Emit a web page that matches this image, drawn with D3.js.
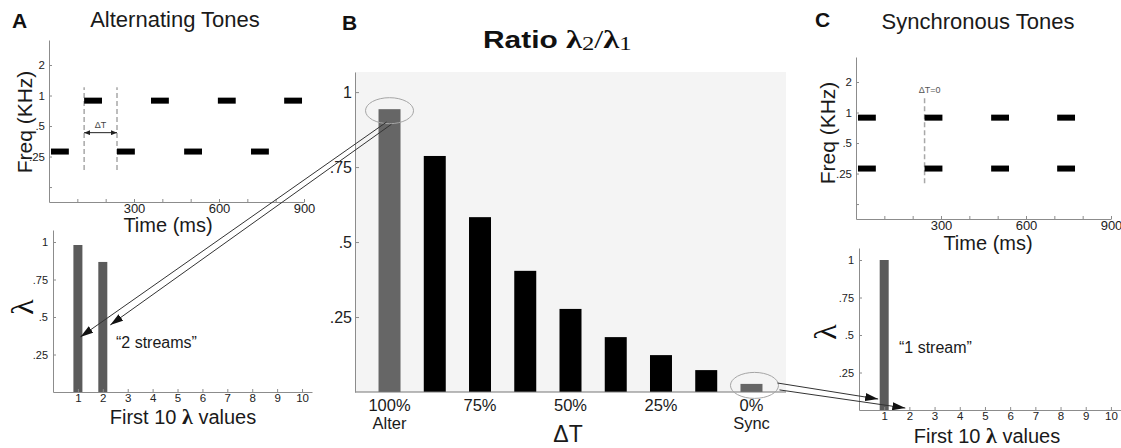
<!DOCTYPE html>
<html>
<head>
<meta charset="utf-8">
<script src="https://cdn.jsdelivr.net/npm/d3@7"></script>
<style>
  body { margin: 0; background: #fff; }
  svg { display: block; }
</style>
</head>
<body>
<div id="chart"></div>
<script>
// ---- data ----
const timeTicks = [100, 200, 300, 400, 500, 600, 700, 800, 900];
const timeLabels = [300, 600, 900];
const freqTicks = [2, 1, 0.5, 0.25, 0.125];
const freqLabels = ["2", "1", ".5", ".25", ""];
const highTone = 0.89;   // kHz
const lowTone = 0.28;
const toneDuration = 63; // ms
const altHighOnsets = [124, 360, 596, 830];
const altLowOnsets = [7, 240, 477, 713];
const syncOnsets = [7, 242, 477, 710];
const altDashes = [124, 240];
const syncDashes = [242];

const lambdaIndex = [1, 2, 3, 4, 5, 6, 7, 8, 9, 10];
const lambdaAlter = [0.98, 0.867, 0, 0, 0, 0, 0, 0, 0, 0];
const lambdaSync = [1.0, 0, 0, 0, 0, 0, 0, 0, 0, 0];
const lambdaTicks = [0.25, 0.5, 0.75, 1];
const lambdaTickLabels = [".25", ".5", ".75", "1"];

const ratioCats = [0, 1, 2, 3, 4, 5, 6, 7, 8];
const ratioPct = ["100%", "", "75%", "", "50%", "", "25%", "", "0%"];
const ratioNames = ["Alter", "", "", "", "", "", "", "", "Sync"];
const ratioValues = [0.943, 0.787, 0.583, 0.404, 0.277, 0.183, 0.123, 0.073, 0.027];
const ratioGrey = [true, false, false, false, false, false, false, false, true];

// ---- setup ----
const W = 1121, H = 448;
const sans = "Liberation Sans, Arial, sans-serif";
const serif = "Liberation Serif, Times New Roman, serif";
const axisGrey = "#8c8c8c";

const svg = d3.select("#chart").append("svg")
    .attr("width", W)
    .attr("height", H);

const defs = svg.append("defs");
defs.append("marker")
    .attr("id", "head")
    .attr("viewBox", "0 0 13 8")
    .attr("refX", 13).attr("refY", 4)
    .attr("markerWidth", 13).attr("markerHeight", 8)
    .attr("markerUnits", "userSpaceOnUse")
    .attr("orient", "auto")
    .append("path").attr("d", "M0,0L13,4L0,8Z").attr("fill", "#111");
defs.append("marker")
    .attr("id", "small")
    .attr("viewBox", "0 0 6 5")
    .attr("refX", 6).attr("refY", 2.5)
    .attr("markerWidth", 6).attr("markerHeight", 5)
    .attr("markerUnits", "userSpaceOnUse")
    .attr("orient", "auto-start-reverse")
    .append("path").attr("d", "M0,0L6,2.5L0,5Z").attr("fill", "#222");

function styleAxis(g, size) {
    g.attr("font-family", sans).attr("font-size", size);
    g.select(".domain").attr("stroke", axisGrey);
    g.selectAll(".tick line").attr("stroke", axisGrey);
    g.selectAll(".tick text").attr("fill", "#222");
}

function label(g, txt, x, y, size, opts = {}) {
    return g.append("text")
        .attr("x", x).attr("y", y)
        .attr("text-anchor", opts.anchor || "middle")
        .attr("font-family", opts.family || sans)
        .attr("font-size", size)
        .attr("font-weight", opts.weight || "normal")
        .attr("fill", opts.fill || "#111")
        .attr("transform", opts.rotate ? `rotate(-90,${x},${y})` : null)
        .text(txt);
}

// ---- tone panels (A top, C top) ----
function tonePanel(cfg) {
    const g = svg.append("g").attr("transform", `translate(${cfg.ox},${cfg.oy})`);
    const x = d3.scaleLinear().domain([0, 900]).range([0, 255]);
    const y = d3.scaleLog().base(2).domain([0.089, 3.53]).range([0, -162]);

    g.append("g")
        .call(d3.axisBottom(x).tickValues(timeTicks)
            .tickFormat(d => timeLabels.includes(d) ? d : "")
            .tickSize(-3).tickSizeOuter(0).tickPadding(2))
        .call(a => styleAxis(a, 13));
    g.append("g")
        .call(d3.axisLeft(y).tickValues(freqTicks)
            .tickFormat((d, i) => freqLabels[i])
            .tickSize(-3).tickSizeOuter(0).tickPadding(4))
        .call(a => styleAxis(a, 11.5));

    // dashed onset markers
    g.selectAll(".dash").data(cfg.dashes).join("line")
        .attr("x1", d => x(d)).attr("x2", d => x(d))
        .attr("y1", y(cfg.dashSpan[0])).attr("y2", y(cfg.dashSpan[1]))
        .attr("stroke", "#a8a8a8").attr("stroke-width", 1.5)
        .attr("stroke-dasharray", "5,3");

    g.selectAll(".hi").data(cfg.high).join("rect")
        .attr("x", d => x(d)).attr("y", y(highTone) - 3)
        .attr("width", x(toneDuration)).attr("height", 6).attr("fill", "#000");
    g.selectAll(".lo").data(cfg.low).join("rect")
        .attr("x", d => x(d)).attr("y", y(lowTone) - 3)
        .attr("width", x(toneDuration)).attr("height", 6).attr("fill", "#000");

    if (cfg.dashes.length === 2) {
        g.append("line")
            .attr("x1", x(cfg.dashes[0])).attr("x2", x(cfg.dashes[1]))
            .attr("y1", y(0.43)).attr("y2", y(0.43))
            .attr("stroke", "#222").attr("stroke-width", 1)
            .attr("marker-start", "url(#small)").attr("marker-end", "url(#small)");
        label(g, "ΔT", (x(cfg.dashes[0]) + x(cfg.dashes[1])) / 2, y(0.43) - 5, 9, { fill: "#444" });
    } else {
        label(g, "ΔT=0", x(cfg.dashes[0]) + 5, y(cfg.dashSpan[1]) - 5, 9, { fill: "#555" });
    }

    label(g, cfg.title, cfg.titlePos[0], cfg.titlePos[1], 22, { fill: "#1a1a1a" });
    label(g, cfg.letter, cfg.letterPos[0], cfg.letterPos[1], 21, { weight: "bold", anchor: "start" });
    label(g, "Time (ms)", cfg.timePos[0], cfg.timePos[1], 20, { fill: "#1a1a1a" });
    label(g, "Freq (KHz)", cfg.freqPos[0], cfg.freqPos[1], 21, { rotate: true, fill: "#1a1a1a" });
}

tonePanel({
    ox: 49, oy: 202, high: altHighOnsets, low: altLowOnsets,
    dashes: altDashes, dashSpan: [0.184, 1.21],
    title: "Alternating Tones", titlePos: [126, -175],
    letter: "A", letterPos: [-37, -174],
    timePos: [119, 30], freqPos: [-17, -80]
});
tonePanel({
    ox: 856, oy: 219, high: syncOnsets, low: syncOnsets,
    dashes: syncDashes, dashSpan: [0.2, 1.4],
    title: "Synchronous Tones", titlePos: [122, -190],
    letter: "C", letterPos: [-41, -192],
    timePos: [132, 31], freqPos: [-21, -86]
});

// ---- lambda panels (A bottom, C bottom) ----
function lambdaPanel(cfg) {
    const g = svg.append("g").attr("transform", `translate(${cfg.ox},${cfg.oy})`);
    const x = d3.scaleLinear().domain([0, 10.4]).range([0, cfg.len]);
    const y = d3.scaleLinear().domain([0, 1.08]).range([0, -162]);

    g.selectAll(".bar").data(cfg.values).join("rect")
        .attr("x", (d, i) => x(lambdaIndex[i]) - 4.5)
        .attr("y", d => y(d))
        .attr("width", 9)
        .attr("height", d => -y(d))
        .attr("fill", "#5b5b5b");

    g.append("g")
        .call(d3.axisBottom(x).tickValues(lambdaIndex)
            .tickSize(-3).tickSizeOuter(0).tickPadding(2))
        .call(a => styleAxis(a, 11.5));
    g.append("g")
        .call(d3.axisLeft(y).tickValues(lambdaTicks)
            .tickFormat((d, i) => lambdaTickLabels[i])
            .tickSize(-3).tickSizeOuter(0).tickPadding(5))
        .call(a => styleAxis(a, 11));

    label(g, "λ", cfg.lamPos[0], cfg.lamPos[1], 32, { family: serif, rotate: true });
    label(g, cfg.note, cfg.notePos[0], cfg.notePos[1], 16, { anchor: "start", fill: "#1a1a1a" });

    const t = label(g, "First 10 ", cfg.firstPos[0], cfg.firstPos[1], 20, { fill: "#1a1a1a" });
    t.append("tspan").attr("font-family", serif).attr("font-weight", "bold").attr("font-size", 22).text("λ");
    t.append("tspan").text(" values");

    return (xv, yv) => [cfg.ox + x(xv), cfg.oy + y(yv)];
}

const lamA = lambdaPanel({
    ox: 53, oy: 392, len: 259, values: lambdaAlter,
    lamPos: [-20, -85], note: "“2 streams”", notePos: [63, -44], firstPos: [130, 32]
});
const lamC = lambdaPanel({
    ox: 859, oy: 410, len: 262, values: lambdaSync,
    lamPos: [-23, -78], note: "“1 stream”", notePos: [40, -57], firstPos: [128, 33]
});

// ---- panel B: ratio ----
const bx = d3.scaleBand().domain(ratioCats).range([355, 786])
    .paddingInner(0.514).paddingOuter(0.52);
const by = d3.scaleLinear().domain([0, 1.067]).range([392, 72]);

const gB = svg.append("g");
gB.append("rect")
    .attr("x", bx.range()[0]).attr("y", by.range()[1])
    .attr("width", bx.range()[1] - bx.range()[0])
    .attr("height", by.range()[0] - by.range()[1])
    .attr("fill", "#f4f4f4");

gB.selectAll(".rbar").data(ratioValues).join("rect")
    .attr("x", (d, i) => bx(ratioCats[i]))
    .attr("y", d => by(d))
    .attr("width", bx.bandwidth())
    .attr("height", d => by(0) - by(d))
    .attr("fill", (d, i) => ratioGrey[i] ? "#666" : "#000");

gB.append("line")
    .attr("x1", bx.range()[0]).attr("x2", bx.range()[1])
    .attr("y1", by(0)).attr("y2", by(0))
    .attr("stroke", "#777").attr("stroke-width", 1.2);
gB.append("g").attr("transform", `translate(${bx.range()[0]},0)`)
    .call(d3.axisLeft(by).tickValues(lambdaTicks)
        .tickFormat((d, i) => lambdaTickLabels[i])
        .tickSize(-4).tickSizeOuter(0).tickPadding(3))
    .call(a => styleAxis(a, 16));

ratioCats.forEach((c, i) => {
    const cx = bx(c) + bx.bandwidth() / 2;
    if (ratioPct[i]) label(gB, ratioPct[i], cx, 411, 16.5, { fill: "#1a1a1a" });
    if (ratioNames[i]) label(gB, ratioNames[i], cx, 429, 16.5, { fill: "#1a1a1a" });
});
label(gB, "ΔT", 568, 442, 23, { fill: "#1a1a1a" });
label(gB, "B", 342, 30, 21, { weight: "bold", anchor: "start" });

// title is drawn wide in the original, so stretch it horizontally
const titleG = gB.append("g").attr("transform", "translate(483,48) scale(1.3,1)");
const title = label(titleG, "Ratio ", 0, 0, 23, { weight: "bold", anchor: "start" });
title.append("tspan").attr("font-family", serif).attr("font-size", 25).text("λ");
title.append("tspan").attr("font-family", serif).attr("font-weight", "normal").attr("font-size", 19).attr("dy", 2).text("2");
title.append("tspan").attr("font-family", serif).attr("font-weight", "normal").attr("font-size", 25).attr("dy", -2).text("/");
title.append("tspan").attr("font-family", serif).attr("font-size", 25).text("λ");
title.append("tspan").attr("font-family", serif).attr("font-weight", "normal").attr("font-size", 19).attr("dy", 2).text("1");

// ellipses around the two grey bars
[0, 8].forEach(i => {
    gB.append("ellipse")
        .attr("cx", bx(ratioCats[i]) + bx.bandwidth() / 2 + (i === 8 ? 3 : 0))
        .attr("cy", by(ratioValues[i]) + 1.5)
        .attr("rx", 24).attr("ry", 13)
        .attr("fill", "none").attr("stroke", "#a5a5a5").attr("stroke-width", 1);
});

// ---- arrows linking panels ----
const arrowsAlter = [
    { from: [-3, 0.9], to: [1.1, 0.367] },
    { from: [2, 0.893], to: [2.3, 0.447] }
];
const arrowsSync = [
    { from: [26, 0.03], to: [0.76, 0.073] },
    { from: [28, 0.007], to: [1.84, 0.013] }
];
const bMid = i => bx(ratioCats[i]) + bx.bandwidth() / 2;

arrowsAlter.forEach(a => {
    const end = lamA(a.to[0], a.to[1]);
    svg.append("line")
        .attr("x1", bMid(0) + a.from[0]).attr("y1", by(a.from[1]))
        .attr("x2", end[0]).attr("y2", end[1])
        .attr("stroke", "#333").attr("stroke-width", 1)
        .attr("marker-end", "url(#head)");
});
arrowsSync.forEach(a => {
    const end = lamC(a.to[0], a.to[1]);
    svg.append("line")
        .attr("x1", bMid(8) + a.from[0]).attr("y1", by(a.from[1]))
        .attr("x2", end[0]).attr("y2", end[1])
        .attr("stroke", "#333").attr("stroke-width", 1)
        .attr("marker-end", "url(#head)");
});
</script>
</body>
</html>
